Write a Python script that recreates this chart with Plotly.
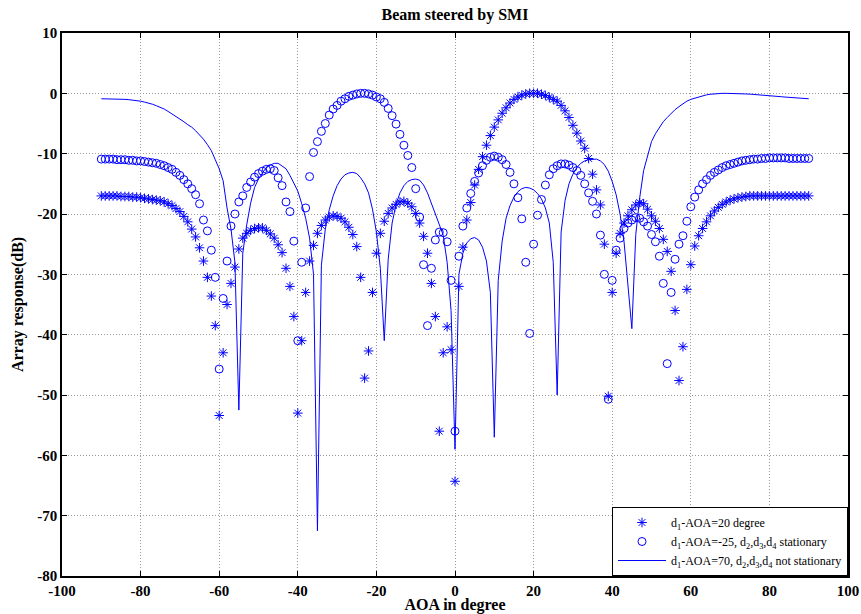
import plotly.graph_objects as go

# Angle of arrival grid (degrees)
aoa = list(range(-90, 91))

# d1-AOA=20 degree (asterisks)
resp_aoa20 = [
    -17.0, -17.0, -17.0, -17.0, -17.0, -17.1, -17.1, -17.1, -17.2, -17.2,   # -90..-81
    -17.3, -17.4, -17.5, -17.6, -17.7, -17.8, -18.0, -18.3, -18.6, -19.1,   # -80..-71
    -19.6, -20.4, -21.3, -22.5, -23.8, -25.6, -27.8, -30.5, -33.6, -38.5,   # -70..-61
    -53.4, -43.0, -35.0, -31.5, -28.8, -25.8, -24.0, -23.2, -22.7, -22.4,   # -60..-51
    -22.3, -22.3, -22.7, -23.3, -24.0, -25.1, -26.4, -29.0, -32.0, -37.0,   # -50..-41
    -53.0, -41.0, -33.0, -27.8, -25.2, -23.2, -21.9, -21.0, -20.5, -20.3,   # -40..-31
    -20.4, -20.7, -21.3, -22.2, -23.4, -25.4, -30.5, -47.2, -42.7, -33.0,   # -30..-21
    -26.5, -23.2, -21.2, -19.9, -19.0, -18.4, -18.0, -17.9, -18.2, -18.8,   # -20..-11
    -19.9, -21.5, -23.7, -26.5, -31.5, -37.0, -56.0, -43.0, -38.7, -42.5,   # -10..-1
    -64.3, -32.0, -25.5, -21.0, -18.1, -15.2, -12.6, -10.5, -8.6, -7.0,     # 0..9
    -5.6, -4.4, -3.3, -2.4, -1.6, -1.0, -0.6, -0.3, -0.1, 0.0,              # 10..19
    0.0, 0.0, -0.15, -0.35, -0.65, -1.0, -1.3, -2.0, -2.9, -4.0,            # 20..29
    -5.3, -6.6, -7.9, -9.1, -10.8, -13.4, -16.0, -18.5, -25.0, -50.2,       # 30..39
    -33.0, -26.5, -23.2, -21.5, -20.3, -19.3, -18.5, -18.1, -18.3, -19.2,   # 40..49
    -20.3, -21.2, -22.4, -24.2, -26.2, -29.5, -36.0, -47.6, -42.0, -32.5,   # 50..59
    -28.4, -25.3, -23.6, -22.4, -21.3, -20.3, -19.5, -18.9, -18.4, -18.0,   # 60..69
    -17.7, -17.5, -17.3, -17.2, -17.1, -17.0, -17.0, -17.0, -17.0, -17.0,   # 70..79
    -17.0, -17.0, -17.0, -17.0, -17.0, -17.0, -17.0, -17.0, -17.0, -17.0, -17.0,  # 80..90
]

# d1-AOA=-25, d2,d3,d4 stationary (circles)
resp_aoa_m25 = [
    -10.9, -10.9, -10.9, -10.9, -11.0, -11.0, -11.0, -11.1, -11.1, -11.2,   # -90..-81
    -11.2, -11.3, -11.4, -11.5, -11.6, -11.8, -12.0, -12.3, -12.6, -13.1,   # -80..-71
    -13.6, -14.3, -15.0, -15.8, -16.8, -18.3, -21.0, -22.8, -26.0, -30.5,   # -70..-61
    -45.7, -34.0, -27.8, -22.0, -20.0, -18.0, -17.0, -15.6, -14.7, -13.9,   # -60..-51
    -13.3, -12.9, -12.6, -12.5, -12.8, -14.0, -15.3, -18.0, -19.6, -24.5,   # -50..-41
    -41.0, -28.0, -19.0, -13.8, -9.8, -8.0, -6.3, -5.0, -3.6, -2.6,         # -40..-31
    -2.0, -1.3, -0.9, -0.5, -0.3, -0.1, 0.0, 0.0, -0.1, -0.3,               # -30..-21
    -0.6, -0.9, -1.5, -2.5, -3.7, -5.1, -6.8, -8.6, -10.3, -12.3,           # -20..-11
    -15.8, -20.5, -28.4, -38.5, -29.0, -24.3, -23.0, -23.1, -24.6, -31.0,   # -10..-1
    -56.0, -27.0, -22.0, -19.0, -16.6, -14.6, -13.2, -12.0, -11.1, -10.6,   # 0..9
    -10.4, -10.6, -11.0, -11.8, -13.1, -15.0, -17.3, -20.8, -28.0, -39.8,   # 10..19
    -25.0, -20.2, -17.6, -15.2, -13.5, -12.5, -12.0, -11.7, -11.7, -11.9,   # 20..29
    -12.3, -12.8, -13.6, -15.0, -16.5, -17.9, -20.0, -23.5, -30.0, -50.7,   # 30..39
    -31.0, -26.0, -24.0, -22.4, -21.5, -21.0, -20.6, -20.7, -21.3, -22.0,   # 40..49
    -23.4, -24.6, -27.0, -31.5, -44.8, -33.0, -27.5, -25.0, -23.6, -21.2,   # 50..59
    -18.8, -17.2, -16.0, -15.0, -14.3, -13.6, -13.1, -12.7, -12.3, -12.0,   # 60..69
    -11.8, -11.6, -11.4, -11.2, -11.1, -11.0, -10.9, -10.9, -10.8, -10.8,   # 70..79
    -10.7, -10.7, -10.7, -10.7, -10.7, -10.8, -10.8, -10.8, -10.8, -10.8, -10.8,  # 80..90
]

# d1-AOA=70, d2,d3,d4 not stationary (line)
resp_aoa70 = [
    -0.9, -0.9, -0.9, -0.9, -0.92, -0.95, -1.0, -1.05, -1.1, -1.2,          # -90..-81
    -1.3, -1.45, -1.6, -1.8, -2.05, -2.3, -2.6, -3.0, -3.4, -3.8,           # -80..-71
    -4.2, -4.7, -5.2, -5.6, -6.2, -6.9, -7.6, -8.5, -9.5, -11.0,            # -70..-61
    -12.5, -14.5, -19.0, -22.5, -28.0, -52.5, -26.5, -21.8, -18.2, -15.6,   # -60..-51
    -14.2, -13.2, -12.3, -11.9, -11.6, -11.6, -12.0, -12.5, -13.6, -15.0,   # -50..-41
    -16.2, -18.3, -20.7, -24.0, -30.0, -72.5, -28.5, -22.5, -19.3, -17.0,   # -40..-31
    -15.3, -14.2, -13.5, -13.2, -13.1, -13.3, -14.0, -15.0, -16.5, -19.2,   # -30..-21
    -23.0, -29.0, -41.0, -27.5, -21.5, -18.4, -16.5, -15.3, -14.6, -14.3,   # -20..-11
    -14.2, -14.4, -15.2, -16.5, -18.2, -19.8, -21.5, -23.5, -28.0, -36.0,   # -10..-1
    -59.0, -30.0, -26.5, -24.8, -24.1, -23.9, -24.3, -25.5, -27.8, -33.0,   # 0..9
    -57.0, -31.0, -24.5, -20.7, -18.6, -17.2, -16.3, -15.8, -15.6, -15.7,   # 10..19
    -16.0, -16.6, -17.5, -19.0, -21.5, -28.0, -50.0, -23.0, -17.8, -15.0,   # 20..29
    -13.4, -12.3, -11.6, -11.2, -11.0, -10.9, -10.9, -11.2, -11.8, -12.9,   # 30..39
    -14.6, -16.8, -20.0, -24.5, -31.5, -39.0, -23.4, -17.3, -12.8, -10.2,   # 40..49
    -8.0, -6.7, -5.6, -4.7, -4.0, -3.3, -2.7, -2.2, -1.7, -1.3,             # 50..59
    -1.0, -0.8, -0.6, -0.4, -0.25, -0.15, -0.08, -0.03, 0.0, 0.0,           # 60..69
    0.0, 0.0, -0.02, -0.05, -0.1, -0.13, -0.17, -0.22, -0.27, -0.32,        # 70..79
    -0.38, -0.44, -0.5, -0.56, -0.62, -0.68, -0.74, -0.8, -0.85, -0.88, -0.9,  # 80..90
]

x_ticks = [-100, -80, -60, -40, -20, 0, 20, 40, 60, 80, 100]
y_ticks = [10, 0, -10, -20, -30, -40, -50, -60, -70, -80]

BLUE = "#0000ff"
SERIF = "Liberation Serif, Times New Roman, serif"

fig = go.Figure()
fig.add_trace(go.Scatter(
    x=aoa, y=resp_aoa20, mode="markers",
    name="d<sub>1</sub>-AOA=20 degree",
    marker=dict(symbol="asterisk-open", size=8, color=BLUE,
                line=dict(color=BLUE, width=1)),
))
fig.add_trace(go.Scatter(
    x=aoa, y=resp_aoa_m25, mode="markers",
    name="d<sub>1</sub>-AOA=-25, d<sub>2</sub>,d<sub>3</sub>,d<sub>4</sub> stationary",
    marker=dict(symbol="circle-open", size=8, color=BLUE,
                line=dict(color=BLUE, width=1)),
))
fig.add_trace(go.Scatter(
    x=aoa, y=resp_aoa70, mode="lines",
    name="d<sub>1</sub>-AOA=70, d<sub>2</sub>,d<sub>3</sub>,d<sub>4</sub> not stationary",
    line=dict(color=BLUE, width=1),
))

axis_common = dict(
    showline=True, linecolor="black", linewidth=1.5, mirror="allticks",
    ticks="inside", ticklen=5, tickcolor="black",
    showgrid=True, gridcolor="#9a9a9a", griddash="1px,2px", gridwidth=1,
    zeroline=False, automargin=False,
    tickfont=dict(family=SERIF, size=15, color="black"),
)

fig.update_xaxes(range=[-100, 100], tickvals=x_ticks,
                 ticktext=[f"<b>{v}</b>" for v in x_ticks],
                 title=dict(text="<b>AOA in degree</b>",
                            font=dict(family=SERIF, size=16, color="black"),
                            standoff=0),
                 **axis_common)
fig.update_yaxes(range=[-80, 10], tickvals=y_ticks,
                 ticktext=[f"<b>{v}</b>" for v in y_ticks],
                 title=dict(text="<b>Array response(dB)</b>",
                            font=dict(family=SERIF, size=16, color="black"),
                            standoff=10),
                 **axis_common)

fig.update_layout(
    width=861, height=614,
    margin=dict(l=62, r=13, t=33, b=38),
    paper_bgcolor="white", plot_bgcolor="white",
    title=dict(text="<b>Beam steered by SMI</b>", x=455 / 861, xanchor="center",
               y=1 - 14 / 614, yanchor="middle",
               font=dict(family=SERIF, size=16, color="black")),
    legend=dict(x=1, xanchor="right", y=0, yanchor="bottom",
                bgcolor="white", bordercolor="black", borderwidth=1,
                font=dict(family=SERIF, size=12, color="black"),
                tracegroupgap=0, itemwidth=48),
    showlegend=True,
)

fig.write_html("out.html",
               config={"displayModeBar": False},
               post_script="document.body.style.margin='0';document.body.style.overflow='hidden';")
